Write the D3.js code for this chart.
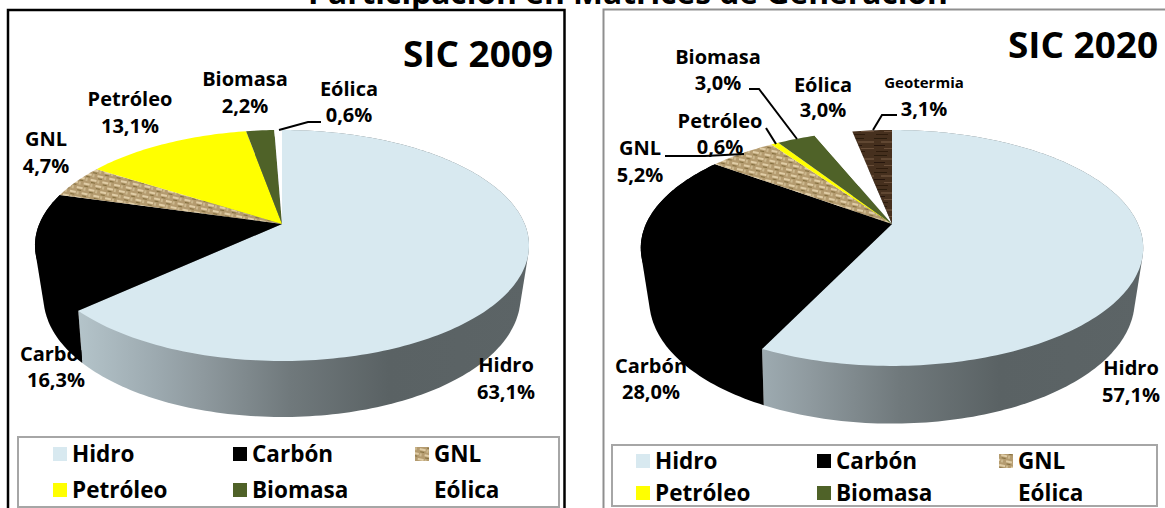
<!DOCTYPE html>
<html><head><meta charset="utf-8">
<script src="https://cdn.jsdelivr.net/npm/d3@7/dist/d3.min.js"></script>
<style>html,body{margin:0;padding:0;background:#fff;overflow:hidden}svg{display:block}text{font-family:"Open Sans",sans-serif;font-weight:700;fill:#000}</style>
</head><body><svg id="c" width="1165" height="508"></svg>
<script>
const title = "Participación en Matrices de Generación";
const categories2009 = ["Hidro","Carbón","GNL","Petróleo","Biomasa","Eólica"];
const values2009 = [63.1,16.3,4.7,13.1,2.2,0.6];
const categories2020 = ["Hidro","Carbón","GNL","Petróleo","Biomasa","Eólica","Geotermia"];
const values2020 = [57.1,28.0,5.2,0.6,3.0,3.0,3.1];
const legendItems = ["Hidro","Carbón","GNL","Petróleo","Biomasa","Eólica"];
const colorNames = ["Hidro","Carbón","GNL","Petróleo","Biomasa","Eólica","Geotermia"];
const colorValues = ["#d8e9f0","#000000","url(#burlap)","#ffff00","#4f6228","#ffffff","url(#wood)"];
const color = d3.scaleOrdinal(colorNames,colorValues);
const fmt = v => d3.format(".1f")(v).replace(".",",")+"%";

const svg = d3.select("#c");
const defs = svg.append("defs");
defs.append("filter").attr("id","soft").attr("x","-10%").attr("y","-10%").attr("width","120%").attr("height","120%")
  .append("feGaussianBlur").attr("stdDeviation",0.7);

const burlap = defs.append("pattern").attr("id","burlap").attr("width",12).attr("height",10)
  .attr("patternUnits","userSpaceOnUse").attr("patternTransform","rotate(12)");
burlap.append("rect").attr("width",12).attr("height",10).attr("fill","#b49b6f");
const bg = burlap.append("g").attr("filter","url(#soft)");
[[0,1,6,2,"#e0cda6"],[6,6,6,2,"#e0cda6"],[1,4,4,1,"#85703f"],[7,9,4,1,"#85703f"],[7,1,2,3,"#cdb98f"],[1,6,2,3,"#cdb98f"]]
  .forEach(r=>bg.append("rect").attr("x",r[0]).attr("y",r[1]).attr("width",r[2]).attr("height",r[3]).attr("fill",r[4]));
const wood = defs.append("pattern").attr("id","wood").attr("width",23).attr("height",17).attr("patternUnits","userSpaceOnUse");
wood.append("rect").attr("width",23).attr("height",17).attr("fill","#46301e");
const wg = wood.append("g").attr("filter","url(#soft)");
[[0,2,13,1,"#2a1a0d"],[7,5,16,2,"#604733"],[0,9,11,1,"#27170b"],[10,12,13,1,"#674d38"],[2,15,12,1,"#2e1c0e"]]
  .forEach(r=>wg.append("rect").attr("x",r[0]).attr("y",r[1]).attr("width",r[2]).attr("height",r[3]).attr("fill",r[4]));

const line = d3.line();
const pie = d3.pie().sort(null).value(d=>d.v);
const wallStops = [[-0.85,"#b6c6cc"],[-0.49,"#9ba8ae"],[-0.33,"#8f9a9f"],[0.03,"#70797c"],[0.43,"#5a6264"],[1,"#5c6466"]];

function drawPanel(o){
  const g = svg.append("g");
  const data = o.categories.map((c,i)=>({c,v:o.values[i]}));
  const arcs = pie(data);
  const R = o.a*1.02;
  // perspective projection of the circle in the pie's plane
  const proj = a => {
    const u=Math.sin(a), v=-Math.cos(a), w=1-o.k*v;
    return [o.cx+o.a*u/w, o.cy+o.b*v/w];
  };
  // same point on the lower face, further from the eye
  const lower = a => {
    const u=Math.sin(a), v=-Math.cos(a), w=1-o.k*v, s=0.96+0.03*v;
    return [o.cx+s*o.a*u/w, o.cy+o.b*v/w+o.d/w];
  };
  const samples = (a0,a1) => d3.range(0,1.0001,1/Math.max(2,Math.ceil((a1-a0)/0.02))).map(t=>a0+(a1-a0)*t);

  const gid="wall"+o.head.slice(-4);
  const grad=defs.append("linearGradient").attr("id",gid).attr("gradientUnits","userSpaceOnUse")
    .attr("x1",o.cx-R).attr("x2",o.cx+R).attr("y1",0).attr("y2",0);
  wallStops.forEach(s=>grad.append("stop").attr("offset",(s[0]+1)/2).attr("stop-color",s[1]));

  g.append("path").attr("d",line(o.frame)).attr("fill","none").attr("stroke",o.frameColor).attr("stroke-width",o.frameWidth);

  const label = (name,val,x,y1,y2,fs) => {
    g.append("text").attr("x",x).attr("y",y1).attr("text-anchor","middle").attr("font-size",fs||o.labelSize).text(name);
    g.append("text").attr("x",x).attr("y",y2).attr("text-anchor","middle").attr("font-size",o.labelSize).text(fmt(val));
  };
  o.labels.filter(l=>l.under).forEach(l=>label(l.n,o.values[o.categories.indexOf(l.n)],l.x,l.y1,l.y2,l.fs));

  // side walls: the hull of a slice's upper and lower rims gives the tangent silhouette
  arcs.filter(d=>d.data.c==="Hidro"||d.data.c==="Carbón").forEach(d=>{
    const as=samples(d.startAngle,d.endAngle);
    const hull=d3.polygonHull(as.map(proj).concat(as.map(lower)));
    g.append("path").attr("d",line(hull)+"Z").attr("fill",d.data.c==="Hidro"?`url(#${gid})`:"#000");
  });
  arcs.forEach(d=>{
    const pts=[[o.cx,o.cy]].concat(samples(d.startAngle,d.endAngle).map(proj));
    g.append("path").attr("d",line(pts)+"Z").attr("fill",color(d.data.c));
  });

  o.leaders.forEach(l=>g.append("path").attr("d",line(l)).attr("fill","none").attr("stroke","#000").attr("stroke-width",2));
  o.labels.filter(l=>!l.under).forEach(l=>label(l.n,o.values[o.categories.indexOf(l.n)],l.x,l.y1,l.y2,l.fs));
  g.append("text").attr("x",o.headX).attr("y",o.headY).attr("text-anchor","middle").attr("font-size",35).attr("textLength",150).attr("lengthAdjust","spacingAndGlyphs").text(o.head);

  const L=o.legend;
  g.append("rect").attr("x",L.x).attr("y",L.y).attr("width",L.w).attr("height",L.h).attr("fill","#fff").attr("stroke","#a6a6a6").attr("stroke-width",2);
  legendItems.forEach((n,i)=>{
    const x=L.cols[i%3], y=L.rows[Math.floor(i/3)];
    g.append("rect").attr("x",x).attr("y",y-L.sw/2).attr("width",L.sw).attr("height",L.sw).attr("fill",color(n));
    g.append("text").attr("x",x+L.sw+L.gap).attr("y",y+8).attr("font-size",L.fs).text(n);
  });
}

drawPanel({
  categories:categories2009, values:values2009, head:"SIC 2009", headX:478, headY:67, labelSize:20,
  cx:282, cy:224, a:242.7, b:111.5, k:0.186, d:45.6,
  frame:[[8,508],[8,10],[564.5,10],[564.5,508]], frameColor:"#000", frameWidth:2.5,
  legend:{x:18,y:437,w:541,h:70,cols:[53,233,415],rows:[454,490],sw:14,gap:5,fs:22.5},
  leaders:[[[279,130],[308,122],[321,122]]],
  labels:[
    {n:"Biomasa",x:245,y1:86,y2:113},{n:"Petróleo",x:130,y1:106,y2:133},{n:"GNL",x:46,y1:146,y2:173},
    {n:"Eólica",x:349,y1:96,y2:122},{n:"Carbón",x:56,y1:361,y2:387,under:true},{n:"Hidro",x:506,y1:372,y2:399}
  ]
});
drawPanel({
  categories:categories2020, values:values2020, head:"SIC 2020", headX:1083, headY:58, labelSize:20,
  cx:892, cy:224, a:246, b:113.1, k:0.203, d:46,
  frame:[[603.5,508],[603.5,9.5],[1165,9.5]], frameColor:"#8f8f8f", frameWidth:2,
  legend:{x:612,y:445,w:545,h:61,cols:[636,817,999],rows:[461,493],sw:14,gap:5,fs:22.5},
  leaders:[[[665,156],[705,156],[744,154]],[[749,89],[759,89],[797,139]],[[766,128],[776,144]],[[873,130],[882,115],[897,115]]],
  labels:[
    {n:"Biomasa",x:718,y1:64,y2:90},{n:"Eólica",x:823,y1:92,y2:117},{n:"Geotermia",x:924,y1:88,y2:116,fs:15},
    {n:"Petróleo",x:720,y1:128,y2:154},{n:"GNL",x:640,y1:155,y2:182},{n:"Carbón",x:651,y1:373,y2:399,under:true},{n:"Hidro",x:1131,y1:375,y2:402}
  ]
});
svg.append("text").attr("x",628).attr("y",4).attr("text-anchor","middle").attr("font-size",31).attr("font-weight",800).attr("textLength",640).attr("lengthAdjust","spacingAndGlyphs").text(title);
</script></body></html>
